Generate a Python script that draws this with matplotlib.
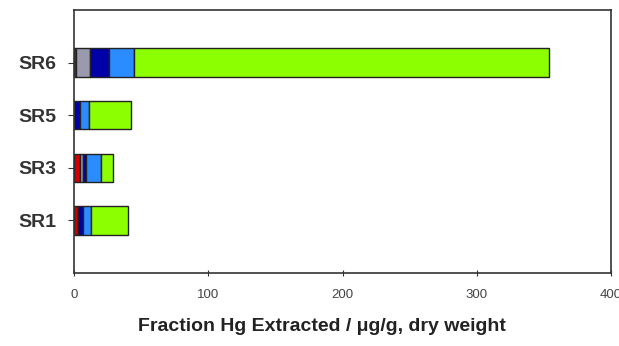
import matplotlib.pyplot as plt
import numpy as np

plt.rcParams['font.family'] = ['Liberation Sans', 'DejaVu Sans']

samples = ['SR6', 'SR5', 'SR3', 'SR1']
# extracted Hg per fraction, ug/g dry weight
f1 = [1.5, 0.0, 4.5, 3.0]
f2 = [10.5, 0.0, 2.0, 0.0]
f3 = [14.0, 4.5, 2.5, 3.5]
f4 = [19.0, 6.5, 11.0, 6.0]
f5 = [309.0, 31.5, 9.0, 28.0]

fractions = [f1, f2, f3, f4, f5]
colors = ['#d40000', '#9a9aae', '#0000a8', '#2a8cff', '#8cff00']

fig = plt.figure(figsize=(6.19, 3.46), dpi=100)
ax = fig.add_axes([0.1196, 0.211, 0.8675, 0.760])

ypos = np.arange(len(samples), 0, -1)
left = np.zeros(len(samples))
for vals, c in zip(fractions, colors):
    vals = np.array(vals)
    ax.barh(ypos, vals, left=left, height=0.54, color=c,
            edgecolor='#222222', linewidth=1.0)
    left += vals

ax.set_xlim(0, 400)
ax.set_ylim(0, 5)
ax.set_xticks([0, 100, 200, 300, 400])
ax.set_yticks(ypos)
ax.set_yticklabels(samples, fontsize=14, fontweight='bold', color='#333333')
ax.tick_params(axis='x', direction='inout', length=5, labelsize=9.5,
               labelcolor='#444444', pad=9, color='#333333')
ax.tick_params(axis='y', direction='out', length=4, color='#333333', pad=9)
for s in ax.spines.values():
    s.set_color('#333333')
    s.set_linewidth(1.2)

ax.set_xlabel('Fraction Hg Extracted / \u03bcg/g, dry weight', fontsize=14,
              fontweight='bold', color='#222222', labelpad=10)
ax.xaxis.set_label_coords(0.462, -0.17)

fig.savefig('out.png', dpi=100)
